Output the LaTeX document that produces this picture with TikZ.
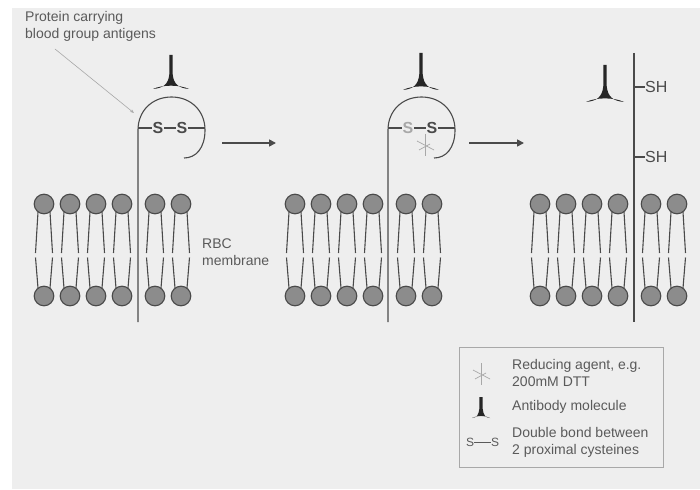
\documentclass[tikz,border=0pt]{standalone}
\usepackage{fontspec}
\setmainfont{Liberation Sans}
\usetikzlibrary{arrows.meta}
\definecolor{paper}{HTML}{EEEEEE}
\definecolor{ink}{HTML}{4A4A4A}
\definecolor{headfill}{HTML}{8C8C8C}
\definecolor{labelgray}{HTML}{5A5A5A}
\definecolor{faint}{HTML}{A8A8A8}

% antibody glyph: centre x, base y, half width, height
\newcommand\abglyph[4]{%
  \fill[black!85]
    ({#1-1.6},{#2-#4}) -- ({#1+1.6},{#2-#4}) -- ({#1+1.6},{#2-0.45*#4})
    .. controls ({#1+2.6},{#2-0.12*#4}) and ({#1+0.45*#3},{#2-0.03*#4}) .. ({#1+#3},{#2})
    .. controls ({#1+0.5*#3},{#2-0.13*#4}) and ({#1-0.5*#3},{#2-0.13*#4}) .. ({#1-#3},{#2})
    .. controls ({#1-0.45*#3},{#2-0.03*#4}) and ({#1-2.6},{#2-0.12*#4}) .. ({#1-1.6},{#2-0.45*#4})
    -- cycle;}

% reducing agent glyph: centre x, centre y
\newcommand\ragent[2]{%
  \draw[faint,line width=0.7pt] ({#1},{#2-11}) -- ({#1},{#2+11});
  \draw[faint,line width=0.7pt] ({#1-8},{#2-4}) -- ({#1+9},{#2+5});
  \draw[faint,line width=0.7pt] ({#1-6},{#2+5}) -- ({#1+5},{#2-1});}

% one phospholipid: x of its heads
\newcommand\lipid[1]{%
  \draw[ink,line width=1.1pt] ({#1-6},212) -- ({#1-8.5},253);
  \draw[ink,line width=1.1pt] ({#1+6},212) -- ({#1+8.5},253);
  \draw[ink,line width=1.1pt] ({#1-8.5},257.5) -- ({#1-6},288);
  \draw[ink,line width=1.1pt] ({#1+8.5},257.5) -- ({#1+6},288);
  \draw[ink,fill=headfill,line width=1.1pt] ({#1},204) circle (9.8);
  \draw[ink,fill=headfill,line width=1.1pt] ({#1},296) circle (9.8);}

\tikzset{
  protein/.style={ink,line width=1.1pt},
  step arrow/.style={ink,line width=1.6pt,-{Triangle[length=7pt,width=7pt]}},
  smalltext/.style={labelgray,font=\fontsize{14}{17}\selectfont,align=left,inner sep=0pt},
  sulfur/.style={text=ink,font=\fontsize{16}{16}\selectfont\bfseries,inner sep=0.6pt,fill=paper},
  thiol/.style={text=ink,font=\fontsize{16}{16}\selectfont,inner sep=0pt,anchor=west},
}

\begin{document}
\begin{tikzpicture}[x=1pt,y=-1pt]
\useasboundingbox (0,0) rectangle (700,489);
\fill[paper] (12,8) rectangle (700,489);

% membranes of the three stages
\foreach \ox in {0,251,496}{
  \foreach \dx in {44,70,96,122,155,181}{
    \pgfmathsetmacro\hx{\ox+\dx}
    \lipid{\hx}
  }
}

% ---- stage 1: intact protein loop with S-S bridge
\draw[protein] (138,322) -- (138,130)
  .. controls (138,111) and (152,97) .. (171.5,97)
  .. controls (191,97) and (205,111) .. (205,130)
  .. controls (205,148) and (196,158) .. (184,158);
\draw[protein] (138,128) -- (205,128);
\node[sulfur] (s1a) at (158,128) {S};
\node[sulfur] (s1b) at (182,128) {S};
\abglyph{171}{89}{18}{34}

\node[smalltext,anchor=north west] (plabel) at (25,11)
  {Protein carrying\\blood group antigens};
\coordinate (ptip) at (134,113);
\draw[faint,line width=0.6pt,-{Stealth[length=4pt,width=3pt]}] (55,49) -- (ptip);

\node[smalltext,anchor=west] (rbc) at (202,252) {RBC\\membrane};

% ---- stage 2: reducing agent attacks the bridge
\draw[protein] (388,322) -- (388,130)
  .. controls (388,111) and (402,97) .. (421.5,97)
  .. controls (441,97) and (455,111) .. (455,130)
  .. controls (455,148) and (446,158) .. (434,158);
\draw[protein] (388,128) -- (455,128);
\node[sulfur,text=faint] (s2a) at (408,128) {S};
\node[sulfur] (s2b) at (432,128) {S};
\ragent{425}{145}
\abglyph{421}{90}{18}{37}

% ---- stage 3: reduced protein, antibody released
\draw[protein] (634,53) -- (634,322);
\draw[protein] (634,87) -- (645,87);
\draw[protein] (634,157) -- (645,157);
\node[thiol] (sh1) at (645,87) {SH};
\node[thiol] (sh2) at (645,157) {SH};
\abglyph{605}{102}{19}{37}

% transition arrows
\coordinate (a1s) at (222,143);
\coordinate (a1e) at (276,143);
\coordinate (a2s) at (469,143);
\coordinate (a2e) at (524,143);
\draw[step arrow] (a1s) -- (a1e);
\draw[step arrow] (a2s) -- (a2e);

% ---- key
\node[draw=faint,line width=0.8pt,minimum width=204pt,minimum height=120pt,inner sep=0pt]
  (key) at (561,407) {};
\ragent{481}{374}
\node[smalltext,anchor=west] (k1) at (512,373) {Reducing agent, e.g.\\200mM DTT};
\abglyph{481}{418}{9}{21}
\node[smalltext,anchor=west] (k2) at (512,407) {Antibody molecule};
\node[text=labelgray,font=\fontsize{12}{12}\selectfont,inner sep=0pt] (ks1) at (470,442) {S};
\node[text=labelgray,font=\fontsize{12}{12}\selectfont,inner sep=0pt] (ks2) at (495,442) {S};
\draw[labelgray,line width=0.8pt] (ks1) -- (ks2);
\node[smalltext,anchor=west] (k3) at (512,442) {Double bond between\\2 proximal cysteines};
\end{tikzpicture}
\end{document}
